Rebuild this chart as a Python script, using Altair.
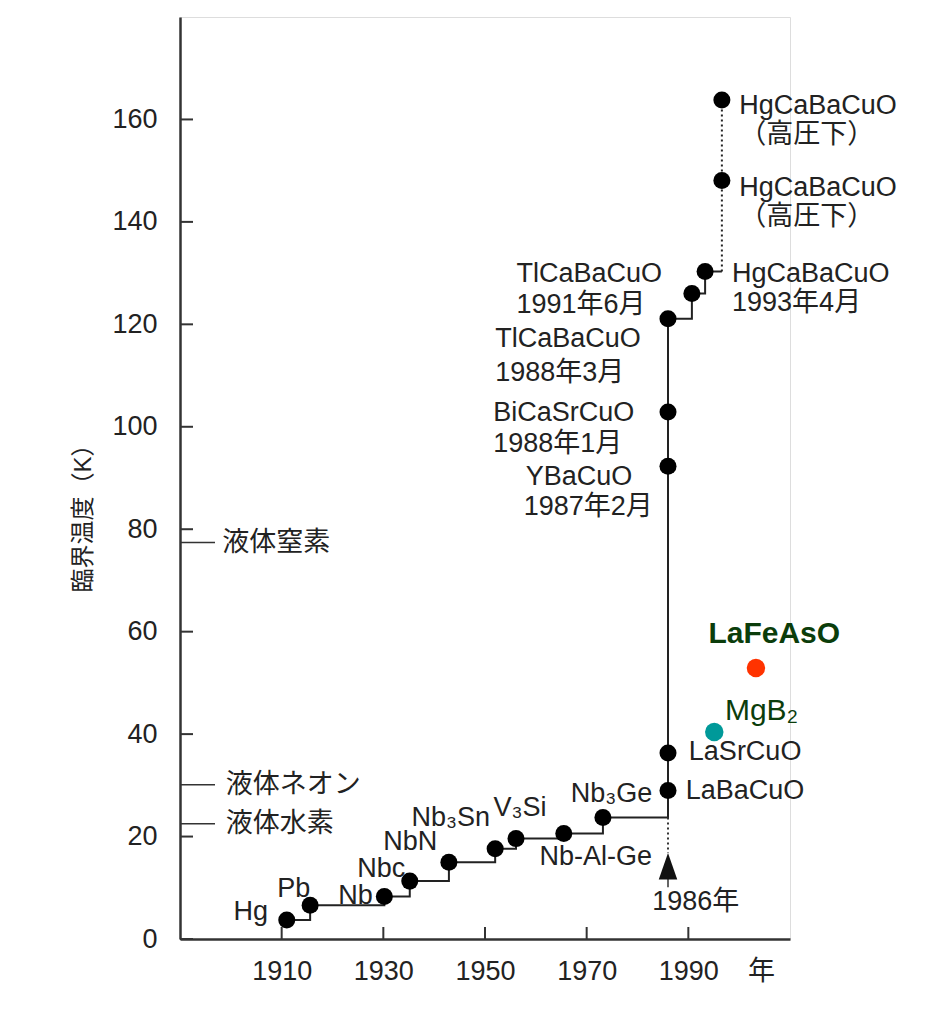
import altair as alt
import pandas as pd

FONT = "Liberation Sans, Noto Sans CJK JP, sans-serif"
TXT = "#222222"

# ---- record chain (black dots) ----
chain_names = ["Hg", "Pb", "Nb", "NbC", "NbN", "Nb3Sn", "V3Si", "Nb-Al-Ge", "Nb3Ge",
               "LaBaCuO", "LaSrCuO", "YBaCuO", "BiCaSrCuO", "TlCaBaCuO88",
               "TlCaBaCuO91", "HgCaBaCuO93"]
chain_years = [1911.0, 1915.6, 1930.2, 1935.2, 1942.9, 1952.0, 1956.1, 1965.5, 1973.2,
               1986.0, 1986.0, 1986.0, 1986.0, 1986.0, 1990.7, 1993.3]
chain_tcs = [3.7, 6.6, 8.3, 11.3, 15.0, 17.6, 19.6, 20.6, 23.7,
             29.0, 36.3, 92.3, 102.9, 121.1, 126.0, 130.3]

# high pressure HgCaBaCuO (dotted)
hp_years = [1996.6, 1996.6]
hp_tcs = [148.1, 163.8]

# new superconductors (coloured)
new_names = ["LaFeAsO", "MgB₂"]
new_years = [2003.3, 1995.1]
new_tcs = [52.9, 40.4]
new_colors = ["#ff3300", "#009999"]
new_label_years = [2006.9, 1997.2]
new_label_tcs = [59.5, 44.6]

# liquid refrigerant levels
liquid_names = ["液体窒素", "液体ネオン", "液体水素"]
liquid_tcs = [77.4, 30.1, 22.5]

# 1986 arrow
arrow_year = 1986.0
arrow_dot_top, arrow_dot_bottom = 23.7, 16.8
arrow_tail_top, arrow_tail_bottom = 13.4, 10.1

y_ticks = [0, 20, 40, 60, 80, 100, 120, 140, 160]
x_ticks = [1910, 1930, 1950, 1970, 1990]

# data labels
label_texts = ["Hg", "Nb", "Nbc", "NbN", "Nb₃Sn",
               "Pb", "V₃Si", "Nb-Al-Ge", "Nb₃Ge",
               "LaBaCuO", "LaSrCuO", "YBaCuO", "1987年2月", "BiCaSrCuO", "1988年1月",
               "TlCaBaCuO", "1988年3月", "TlCaBaCuO", "1991年6月",
               "HgCaBaCuO", "1993年4月", "HgCaBaCuO", "（高圧下）", "HgCaBaCuO", "（高圧下）",
               "液体窒素", "液体ネオン", "液体水素", "1986年"]
label_years = [1907.3, 1927.9, 1934.3, 1940.6, 1951.0,
               1912.4, 1956.9, 1971.8, 1974.9,
               1989.5, 1990.1, 1958.0, 1957.6, 1951.6, 1951.6,
               1952.0, 1952.0, 1956.2, 1956.2,
               1998.6, 1998.6, 2000.0, 2000.0, 2000.0, 2000.0,
               1898.3, 1899.0, 1899.0, 1982.9]
label_tcs = [5.2, 8.3, 13.7, 18.9, 23.7,
             9.7, 25.5, 16.0, 28.3,
             28.9, 36.5, 90.2, 84.3, 102.7, 96.6,
             117.1, 110.5, 129.9, 123.8,
             129.8, 124.2, 146.7, 141.0, 162.6, 156.9,
             77.4, 30.1, 22.5, 7.2]
label_aligns = ["right"] * 5 + ["center"] * 4 + ["left"] * 20

W, H = 610, 922
xs = alt.Scale(domain=[1890, 2010], nice=False, zero=False)
ys = alt.Scale(domain=[0, 180], nice=False)

x_axis = alt.Axis(values=x_ticks, format="d", ticks=False, tickSize=0, grid=False,
                  labelFont=FONT, labelFontSize=27, labelColor=TXT, labelPadding=32,
                  labelBaseline="middle",
                  domainColor="#333333", domainWidth=2.5,
                  title="年", titleX=581, titleY=32, titleFont=FONT, titleFontSize=27,
                  titleFontWeight="normal", titleColor=TXT, titleAlign="center",
                  titleBaseline="middle")
y_axis = alt.Axis(values=y_ticks, ticks=False, tickSize=0, grid=False,
                  labelFont=FONT, labelFontSize=27, labelColor=TXT, labelPadding=23,
                  domainColor="#333333", domainWidth=2.5,
                  title="臨界温度（K）", titleX=-97, titleY=495, titleAngle=270,
                  titleFont=FONT, titleFontSize=24, titleFontWeight="normal",
                  titleColor=TXT, titleAlign="center", titleBaseline="middle")

X = lambda f="year": alt.X(f"{f}:Q", scale=xs, axis=x_axis)
Y = lambda f="tc": alt.Y(f"{f}:Q", scale=ys, axis=y_axis)

chain_df = pd.DataFrame({"name": chain_names, "year": chain_years, "tc": chain_tcs})
chain_df["idx"] = range(len(chain_df))
# the last solid horizontal reaches the high-pressure column
step_df = pd.concat([chain_df, pd.DataFrame({"name": ["end"], "year": [hp_years[0]],
                                             "tc": [chain_tcs[-1]], "idx": [len(chain_df)]})])
dotted_df = pd.DataFrame({"year": [hp_years[0]] + hp_years, "tc": [chain_tcs[-1]] + hp_tcs,
                          "idx": [0, 1, 2]})
hp_df = pd.DataFrame({"name": ["HP1", "HP2"], "year": hp_years, "tc": hp_tcs})
dots_df = pd.concat([chain_df[["name", "year", "tc"]], hp_df])
new_df = pd.DataFrame({"name": new_names, "year": new_years, "tc": new_tcs,
                       "color": new_colors, "lyear": new_label_years, "ltc": new_label_tcs})
liq_df = pd.DataFrame({"name": liquid_names, "tc": liquid_tcs})
yt_df = pd.DataFrame({"tc": y_ticks})
xt_df = pd.DataFrame({"year": x_ticks})
lab_df = pd.DataFrame({"text": label_texts, "year": label_years, "tc": label_tcs,
                       "align": label_aligns})
arrow_df = pd.DataFrame({"year": [arrow_year], "a": [arrow_dot_top], "b": [arrow_dot_bottom],
                         "c": [arrow_tail_top], "d": [arrow_tail_bottom]})

layers = []
# inward y ticks
layers.append(alt.Chart(yt_df).mark_rule(color="#333333", strokeWidth=2).encode(
    y=Y(), x=alt.value(0), x2=alt.value(13)))
# inward x ticks
layers.append(alt.Chart(xt_df).mark_rule(color="#333333", strokeWidth=2).encode(
    x=X(), y=alt.value(H), y2=alt.value(H - 12)))
# liquid marks
layers.append(alt.Chart(liq_df).mark_rule(color="#333333", strokeWidth=1.5).encode(
    y=Y(), x=alt.value(0), x2=alt.value(35)))
# step line
layers.append(alt.Chart(step_df).mark_line(interpolate="step-after", color="#222222",
                                           strokeWidth=2).encode(
    x=X(), y=Y(), order=alt.Order("idx:Q")))
# dotted high-pressure line
layers.append(alt.Chart(dotted_df).mark_line(color="#222222", strokeWidth=2,
                                             strokeDash=[2, 3]).encode(
    x=X(), y=Y(), order=alt.Order("idx:Q")))
# 1986 arrow
layers.append(alt.Chart(arrow_df).mark_rule(color="#333333", strokeWidth=2,
                                            strokeDash=[2, 3]).encode(
    x=X(), y=Y("a"), y2="b:Q"))
layers.append(alt.Chart(arrow_df).mark_rule(color="#333333", strokeWidth=1.5).encode(
    x=X(), y=Y("c"), y2="d:Q"))
layers.append(alt.Chart(arrow_df).mark_point(shape="M0,0L0.7,2L-0.7,2Z", filled=True,
                                             size=700, color="#111111", opacity=1).encode(
    x=X(), y=Y("b")))
# black dots
layers.append(alt.Chart(dots_df).mark_circle(size=290, color="#000000", opacity=1).encode(
    x=X(), y=Y()))
# coloured dots
layers.append(alt.Chart(new_df).mark_circle(size=340, opacity=1).encode(
    x=X(), y=Y(), color=alt.Color("color:N", scale=None)))
# labels
for al in ["left", "center", "right"]:
    layers.append(alt.Chart(lab_df).transform_filter(alt.datum.align == al).mark_text(
        align=al, baseline="middle", font=FONT, fontSize=27, color=TXT).encode(
        x=X(), y=Y(), text="text:N"))
layers.append(alt.Chart(new_df.iloc[[0]]).mark_text(
    align="center", baseline="middle", font=FONT, fontSize=30, fontWeight="bold",
    color="#0b3d0b").encode(x=X("lyear"), y=Y("ltc"), text="name:N"))
layers.append(alt.Chart(new_df.iloc[[1]]).mark_text(
    align="left", baseline="middle", font=FONT, fontSize=30,
    color="#0b3d0b").encode(x=X("lyear"), y=Y("ltc"), text="name:N"))

chart = alt.layer(*layers).properties(
    width=W, height=H,
    autosize=alt.AutoSizeParams(type="none"),
    padding={"left": 172, "top": 9, "right": 130, "bottom": 60},
).configure_view(stroke=None).configure(background="white")

chart.save("out.html", embed_options={"renderer": "svg", "actions": False})
